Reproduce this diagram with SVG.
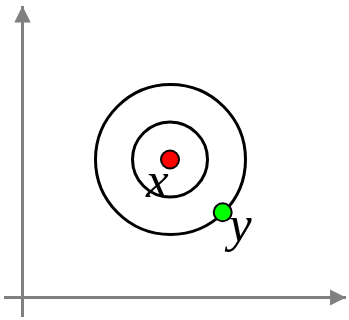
<svg xmlns="http://www.w3.org/2000/svg" width="349" height="320" viewBox="0 0 349 320">
<style>
.axis{stroke:#808080;stroke-width:3;fill:none}
.ring{stroke:#000;stroke-width:3;fill:none}
.dot{stroke:#000;stroke-width:2}
.lbl{font-family:"Liberation Serif",serif;font-style:italic;font-size:51px;fill:#000}
</style>
<defs>
<marker id="ah" viewBox="0 0 10 10" refX="10" refY="5" markerWidth="5.5" markerHeight="5.5" markerUnits="strokeWidth" orient="auto">
<path d="M0,0 L10,5 L0,10 z" fill="#808080"/>
</marker>
</defs>
<g id="axes">
<line class="axis" x1="22.5" y1="317" x2="22.5" y2="6" marker-end="url(#ah)"/>
<line class="axis" x1="4" y1="297.5" x2="346" y2="297.5" marker-end="url(#ah)"/>
</g>
<g id="outer-ring"><circle class="ring" cx="170.5" cy="159.5" r="75"/></g>
<g id="inner-ring"><circle class="ring" cx="170" cy="159.5" r="37.5"/></g>
<g id="x"><circle class="dot" cx="170" cy="159.5" r="9" fill="#ff0000"/><text class="lbl" x="146" y="196.5">x</text></g>
<g id="y"><circle class="dot" cx="222.7" cy="212.3" r="9" fill="#00ff00"/><text class="lbl" x="229" y="241">y</text></g>
</svg>
